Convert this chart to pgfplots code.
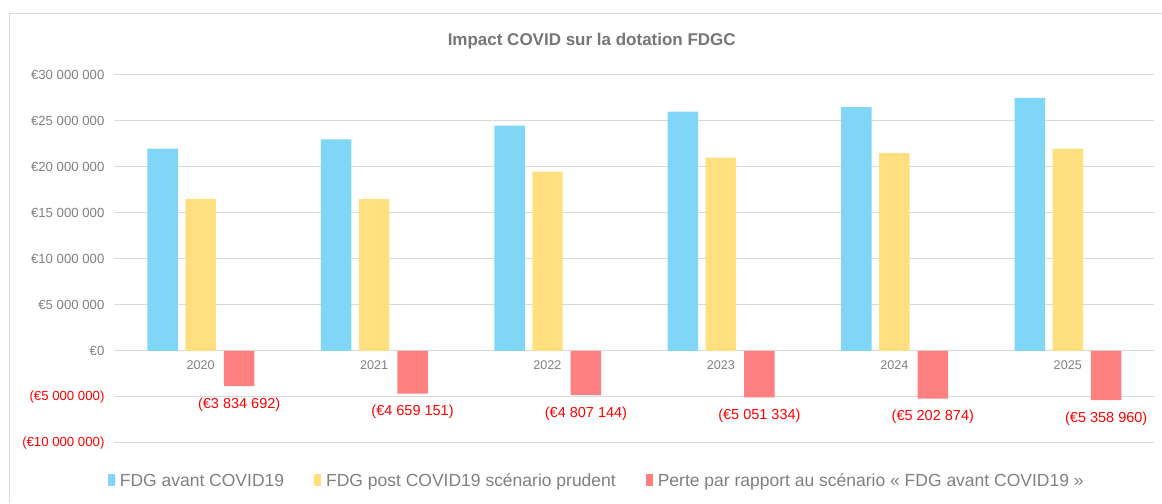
\documentclass[border=0pt]{standalone}
\usepackage{pgfplots}
\pgfplotsset{compat=1.18}
\usepackage{fontspec}
\setmainfont{Liberation Sans}
\definecolor{cblue}{RGB}{127,214,247}
\definecolor{cyel}{RGB}{255,223,128}
\definecolor{cred}{RGB}{255,128,128}
\definecolor{tgray}{RGB}{128,128,128}
\definecolor{ttitle}{RGB}{118,118,118}
\definecolor{gridc}{RGB}{217,217,217}
\definecolor{lred}{RGB}{255,0,0}
\begin{document}
\begin{tikzpicture}
\path (0,0) rectangle (1162pt,503pt);
\draw[gridc, line width=1pt] (10pt,0pt) -- (10pt,489pt) -- (1162pt,489pt);
\node[ttitle, font=\fontsize{17}{20}\selectfont\bfseries] at (592pt,462pt) {Impact COVID sur la dotation FDGC};
\begin{axis}[
  at={(114pt,60pt)}, anchor=south west,
  scale only axis, width=1041pt, height=368pt,
  xmin=-0.5, xmax=5.5, ymin=-10000000, ymax=30000000,
  axis x line=middle, axis y line=left,
  axis line style={draw=none},
  hide obscured x ticks=false, hide obscured y ticks=false,
  scaled y ticks=false,
  major tick length=0pt,
  ybar, bar width=30.5pt,
  xtick={0,1,2,3,4,5},
  xticklabels={2020,2021,2022,2023,2024,2025},
  xticklabel style={tgray, font=\fontsize{12.6}{15}\selectfont, yshift=-6pt},
  ytick={-10000000,-5000000,0,5000000,10000000,15000000,20000000,25000000,30000000},
  yticklabels={\textcolor{lred}{(€10~000~000)},\textcolor{lred}{(€5~000~000)},€0,€5~000~000,€10~000~000,€15~000~000,€20~000~000,€25~000~000,€30~000~000},
  yticklabel style={tgray, font=\fontsize{13.2}{15}\selectfont, xshift=-6pt},
  ymajorgrids, grid style={gridc, line width=1pt},
  legend columns=3,
  legend style={at={(0.464,-0.103)}, anchor=center, draw=none, fill=none,
    font=\fontsize{17.5}{20}\selectfont, text=tgray,
    /tikz/every odd column/.append style={column sep=3pt},
    /tikz/every even column/.append style={column sep=28pt},
    inner sep=0pt},
  legend image code/.code={\fill[#1,draw=none] (0pt,-5pt) rectangle (7pt,7pt);},
]
\addplot[fill=cblue, draw=none, bar shift=-38pt] coordinates {
 (0,22000000) (1,23000000) (2,24500000) (3,26000000) (4,26500000) (5,27500000)};
\addlegendentry{FDG avant COVID19}
\addplot[fill=cyel, draw=none, bar shift=0pt] coordinates {
 (0,16500000) (1,16500000) (2,19500000) (3,21000000) (4,21500000) (5,22000000)};
\addlegendentry{FDG post COVID19 scénario prudent}
\addplot[fill=cred, draw=none, bar shift=38.5pt,
  point meta=explicit symbolic,
  nodes near coords,
  nodes near coords style={lred, font=\fontsize{14.5}{17}\selectfont, anchor=north, yshift=-8pt}]
 coordinates {
 (0,-3834692) [(€3~834~692)]
 (1,-4659151) [(€4~659~151)]
 (2,-4807144) [(€4~807~144)]
 (3,-5051334) [(€5~051~334)]
 (4,-5202874) [(€5~202~874)]
 (5,-5358960) [(€5~358~960)]};
\addlegendentry{Perte par rapport au scénario « FDG avant COVID19 »}
\end{axis}
\end{tikzpicture}
\end{document}
